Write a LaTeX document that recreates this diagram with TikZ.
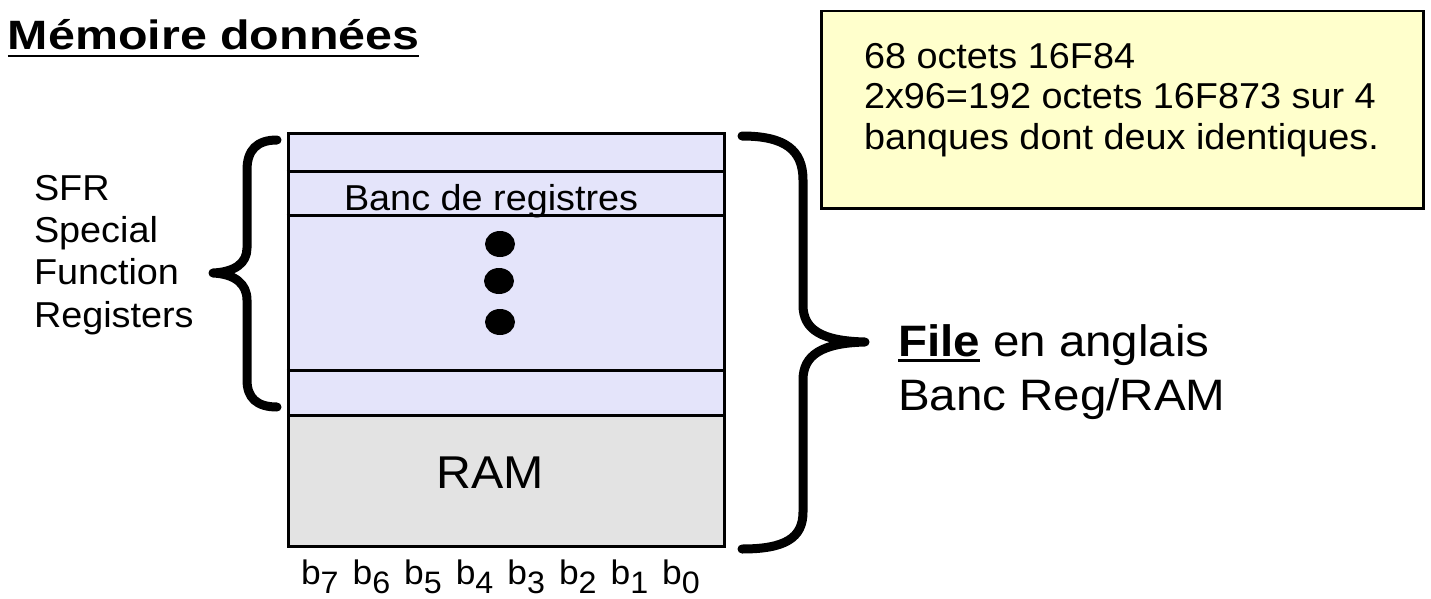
\documentclass[tikz,border=0pt]{standalone}
\usepackage{fontspec}
\setmainfont{Liberation Sans}
\usetikzlibrary{shapes.geometric}
\definecolor{lav}{RGB}{228,228,250}
\definecolor{ramgray}{RGB}{227,227,227}
\definecolor{notey}{RGB}{255,255,204}
\newcommand\ulx[3]{\setbox0\hbox{#3}\rlap{\rule[-#1]{\wd0}{#2}}\box0\relax}
\newcommand\bitlbl[1]{b\raisebox{-9pt}{\fontsize{31}{31}\selectfont #1}}
\tikzset{
  txt/.style={inner sep=0pt, outer sep=0pt, anchor=base west, text=black},
  membox/.style={draw=black, line width=3pt, inner sep=0pt, minimum width=436pt},
  sepline/.style={line width=3pt},
  bracestyle/.style={line width=9pt, line cap=round, line join=round},
  blob/.style={ellipse, fill=black, inner sep=0pt, minimum width=30pt, minimum height=26pt}
}
\begin{document}
\begin{tikzpicture}[x=1pt,y=-1pt]
\useasboundingbox (0,0) rectangle (1431,599);
\fill[white] (0,0) rectangle (1431,599);

% title
\node[txt, xscale=1.18, font=\fontsize{41}{44}\selectfont\bfseries] (title) at (8,50) {\ulx{7.5pt}{2.8pt}{Mémoire données}};

% SFR label (base anchor = last line)
\node[txt, align=left, xscale=1.05, font=\fontsize{36}{42.3}\selectfont] (sfr) at (34,327) {SFR\\Special\\Function\\Registers};

% memory boxes
\node[membox, fill=lav, minimum height=282pt] (regs) at (506,274) {};
\node[membox, fill=ramgray, minimum height=131pt] (ram) at (506,480.5) {};
\draw[sepline] (regs.west |- 0,171) -- (regs.east |- 0,171);
\draw[sepline] (regs.west |- 0,215) -- (regs.east |- 0,215);
\draw[sepline] (regs.west |- 0,370) -- (regs.east |- 0,370);

\node[txt, xscale=1.05, font=\fontsize{36}{40}\selectfont] (bancreg) at (344,210) {Banc de registres};
\node[blob] (d1) at (500,244) {};
\node[blob] (d2) at (499,281) {};
\node[blob] (d3) at (500,322) {};
\node[txt, anchor=base, xscale=1.05, font=\fontsize{46}{50}\selectfont] (ramlbl) at (490,488) {RAM};

% bits
\foreach \i/\n in {0/7,1/6,2/5,3/4,4/3,5/2,6/1,7/0}
  \node[txt, xscale=1.04, font=\fontsize{34}{34}\selectfont] (bit\n) at ({301+51.6*\i},584) {\bitlbl{\n}};

% left brace
\draw[bracestyle] (277,140) .. controls (257,140) and (247,150) .. (247,170)
  -- (247,248) .. controls (247,263) and (235,272) .. (213,273)
  .. controls (235,274) and (247,284) .. (247,300)
  -- (247,380) .. controls (247,398) and (257,407) .. (277,407);

% right brace
\draw[bracestyle] (742,136) .. controls (785,136) and (803,150) .. (803,180)
  -- (803,305) .. controls (803,330) and (822,341) .. (865,342)
  .. controls (822,343) and (803,355) .. (803,380)
  -- (803,512) .. controls (803,538) and (785,549) .. (742,549);

% note box
\node[draw=black, fill=notey, line width=2.5pt, inner sep=0pt, minimum width=602pt, minimum height=197pt, anchor=north west] (note) at (820,10) {};
\node[txt, align=left, xscale=1.05, font=\fontsize{36}{40.5}\selectfont] (notetxt) at (864,149) {68 octets 16F84\\2x96=192 octets 16F873 sur 4\\banques dont deux identiques.};

% file label
\node[txt, align=left, xscale=1.08, font=\fontsize{44}{53.5}\selectfont] (file) at (898,410) {\ulx{5pt}{2.8pt}{\bfseries File} en anglais\\Banc Reg/RAM};
\end{tikzpicture}
\end{document}
